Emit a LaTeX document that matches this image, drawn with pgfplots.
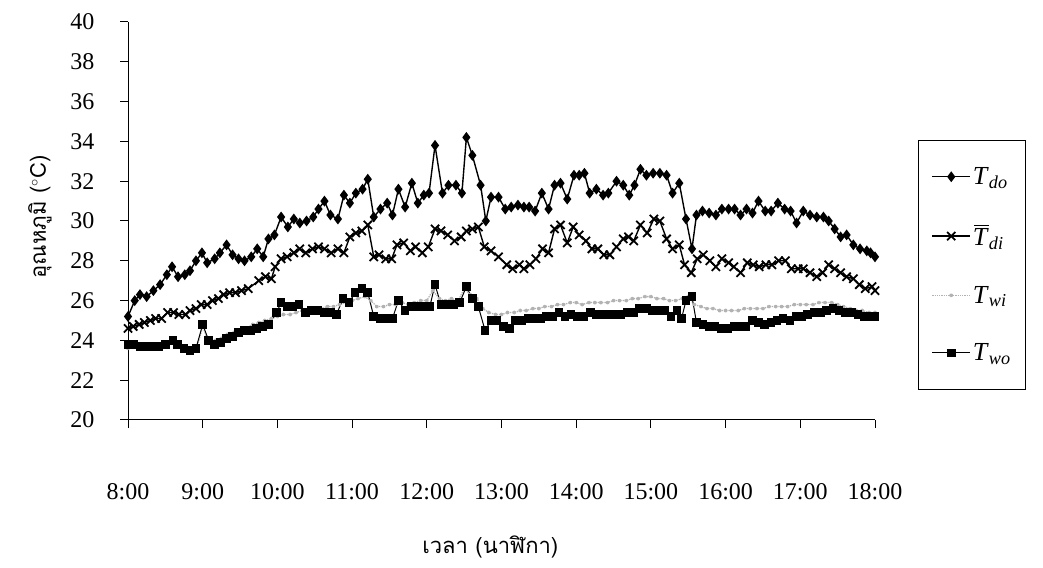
\documentclass[border=0pt]{standalone}
\usepackage{fontspec}
\setmainfont{Liberation Serif}
\newfontfamily\thaifont[Script=Thai]{Loma}
\usepackage{pgfplots}
\pgfplotsset{compat=1.18}
\usepackage{pgfplotstable}

% italic T with a bar over it
\newcommand{\barT}{{\setbox0\hbox{\textit{T}}\rlap{\hspace{1.5pt}\raisebox{\dimexpr\ht0+2.5pt\relax}{\rule{\dimexpr\wd0-1pt\relax}{1pt}}}\box0}}

% time in hours (8 = 8:00), temperature in degrees C
\pgfplotstableread{
t T
8.00 25.2
8.09 26.0
8.16 26.3
8.25 26.2
8.34 26.5
8.43 26.8
8.52 27.3
8.59 27.7
8.67 27.2
8.76 27.3
8.83 27.5
8.91 28.0
8.99 28.4
9.06 27.9
9.16 28.1
9.23 28.4
9.32 28.8
9.40 28.3
9.48 28.1
9.56 28.0
9.65 28.2
9.73 28.6
9.81 28.2
9.88 29.1
9.96 29.3
10.05 30.2
10.14 29.7
10.22 30.1
10.30 29.9
10.39 30.0
10.48 30.2
10.55 30.6
10.63 31.0
10.71 30.3
10.81 30.1
10.89 31.3
10.97 30.9
11.05 31.4
11.14 31.6
11.21 32.1
11.29 30.2
11.38 30.6
11.47 30.9
11.54 30.3
11.62 31.6
11.71 30.7
11.80 31.9
11.88 30.9
11.96 31.3
12.03 31.4
12.11 33.8
12.21 31.4
12.29 31.8
12.39 31.8
12.47 31.4
12.53 34.2
12.61 33.3
12.72 31.8
12.79 30.0
12.86 31.2
12.96 31.2
13.05 30.6
13.13 30.7
13.22 30.8
13.30 30.7
13.37 30.7
13.45 30.5
13.54 31.4
13.63 30.6
13.71 31.8
13.79 31.9
13.88 31.1
13.97 32.3
14.04 32.3
14.11 32.4
14.18 31.4
14.27 31.6
14.36 31.3
14.43 31.4
14.54 32.0
14.63 31.8
14.71 31.3
14.78 31.8
14.86 32.6
14.94 32.3
15.03 32.4
15.12 32.4
15.21 32.3
15.29 31.4
15.38 31.9
15.47 30.1
15.55 28.6
15.61 30.3
15.69 30.5
15.78 30.4
15.87 30.3
15.95 30.6
16.04 30.6
16.12 30.6
16.20 30.3
16.28 30.6
16.36 30.4
16.44 31.0
16.53 30.5
16.61 30.5
16.70 30.9
16.79 30.6
16.87 30.5
16.95 29.9
17.04 30.5
17.13 30.3
17.22 30.2
17.31 30.2
17.38 30.0
17.46 29.6
17.54 29.2
17.62 29.3
17.71 28.8
17.80 28.6
17.89 28.5
17.94 28.4
18.00 28.2
}\Tdo

\pgfplotstableread{
t T
8.00 24.6
8.07 24.7
8.15 24.8
8.22 24.9
8.30 25.0
8.37 25.1
8.45 25.1
8.53 25.4
8.61 25.4
8.68 25.3
8.77 25.3
8.83 25.5
8.91 25.6
8.98 25.8
9.06 25.8
9.13 26.0
9.21 26.1
9.28 26.3
9.36 26.4
9.44 26.4
9.52 26.5
9.61 26.6
9.75 27.0
9.84 27.2
9.92 27.1
9.97 27.7
10.05 28.1
10.13 28.2
10.22 28.4
10.30 28.6
10.38 28.4
10.47 28.6
10.55 28.7
10.63 28.6
10.72 28.4
10.81 28.6
10.89 28.4
10.97 29.2
11.05 29.4
11.13 29.5
11.21 29.8
11.29 28.2
11.36 28.3
11.45 28.1
11.53 28.1
11.60 28.8
11.69 28.9
11.78 28.5
11.85 28.7
11.94 28.4
12.02 28.7
12.11 29.6
12.19 29.5
12.28 29.3
12.37 29.0
12.46 29.2
12.53 29.5
12.61 29.6
12.69 29.7
12.77 28.7
12.86 28.5
12.96 28.2
13.07 27.8
13.15 27.6
13.24 27.8
13.30 27.6
13.38 27.8
13.46 28.1
13.55 28.6
13.63 28.4
13.71 29.6
13.79 29.8
13.88 28.9
13.96 29.7
14.04 29.3
14.13 29.0
14.21 28.6
14.29 28.6
14.37 28.3
14.45 28.3
14.54 28.7
14.63 29.1
14.70 29.2
14.77 29.0
14.86 29.8
14.95 29.4
15.04 30.1
15.12 30.0
15.21 29.1
15.29 28.6
15.38 28.8
15.45 27.8
15.54 27.4
15.62 28.1
15.70 28.3
15.79 28.0
15.87 27.7
15.95 28.1
16.04 27.9
16.11 27.7
16.20 27.4
16.29 27.9
16.37 27.8
16.45 27.7
16.54 27.8
16.62 27.8
16.71 28.0
16.80 28.0
16.88 27.6
16.97 27.6
17.04 27.6
17.13 27.4
17.22 27.2
17.30 27.4
17.38 27.8
17.46 27.6
17.54 27.4
17.62 27.2
17.71 27.1
17.79 26.8
17.87 26.6
17.96 26.7
18.00 26.5
}\Tdi

\pgfplotstableread{
t T
8.00 23.6
8.08 23.7
8.17 23.7
8.25 23.6
8.33 23.7
8.42 23.8
8.50 23.8
8.58 23.9
8.67 23.7
8.75 23.6
8.83 23.5
8.92 23.6
9.00 24.7
9.08 23.9
9.17 24.0
9.25 24.1
9.33 24.3
9.42 24.4
9.50 24.5
9.58 24.6
9.67 24.8
9.75 24.9
9.83 25.0
9.92 25.1
10.00 25.2
10.08 25.3
10.17 25.3
10.25 25.4
10.33 25.5
10.42 25.6
10.50 25.6
10.58 25.6
10.67 25.7
10.75 25.7
10.83 25.8
10.92 25.9
11.00 26.0
11.08 26.1
11.17 26.2
11.25 26.0
11.33 25.7
11.42 25.7
11.50 25.8
11.58 25.8
11.67 25.9
11.75 25.8
11.83 25.9
11.92 26.0
12.00 26.0
12.08 26.5
12.17 26.1
12.25 26.0
12.33 26.1
12.42 26.0
12.50 26.6
12.58 26.3
12.67 26.1
12.75 25.6
12.83 25.4
12.92 25.3
13.00 25.3
13.08 25.4
13.17 25.4
13.25 25.5
13.33 25.5
13.42 25.6
13.50 25.6
13.58 25.7
13.67 25.7
13.75 25.8
13.83 25.8
13.92 25.9
14.00 25.9
14.08 25.8
14.17 25.9
14.25 25.9
14.33 25.9
14.42 25.9
14.50 26.0
14.58 26.0
14.67 26.0
14.75 26.1
14.83 26.1
14.92 26.2
15.00 26.2
15.08 26.1
15.17 26.1
15.25 26.0
15.33 26.0
15.42 26.1
15.50 26.2
15.58 25.8
15.67 25.7
15.75 25.6
15.83 25.6
15.92 25.5
16.00 25.5
16.08 25.5
16.17 25.5
16.25 25.6
16.33 25.6
16.42 25.6
16.50 25.6
16.58 25.7
16.67 25.7
16.75 25.7
16.83 25.7
16.92 25.8
17.00 25.8
17.08 25.8
17.17 25.8
17.25 25.9
17.33 25.9
17.42 25.9
17.50 25.8
17.58 25.7
17.67 25.6
17.75 25.5
17.83 25.5
17.92 25.4
18.00 25.4
}\Twi

\pgfplotstableread{
t T
8.00 23.8
8.08 23.8
8.16 23.7
8.25 23.7
8.33 23.7
8.41 23.7
8.50 23.8
8.60 24.0
8.66 23.8
8.75 23.6
8.83 23.5
8.91 23.6
9.00 24.8
9.08 24.0
9.16 23.8
9.24 23.9
9.32 24.1
9.40 24.2
9.48 24.4
9.56 24.5
9.64 24.5
9.72 24.6
9.80 24.7
9.88 24.8
9.99 25.4
10.05 25.9
10.13 25.7
10.21 25.7
10.29 25.8
10.38 25.4
10.46 25.5
10.54 25.5
10.63 25.4
10.71 25.4
10.79 25.3
10.88 26.1
10.96 25.9
11.04 26.4
11.13 26.6
11.21 26.4
11.29 25.2
11.38 25.1
11.46 25.1
11.54 25.1
11.62 26.0
11.71 25.5
11.79 25.7
11.88 25.7
11.96 25.7
12.04 25.7
12.11 26.8
12.19 25.8
12.27 25.8
12.36 25.8
12.44 25.9
12.53 26.7
12.61 26.1
12.69 25.7
12.78 24.5
12.86 25.0
12.94 25.0
13.03 24.7
13.11 24.6
13.19 25.0
13.27 25.0
13.36 25.1
13.44 25.1
13.52 25.1
13.60 25.2
13.69 25.2
13.77 25.4
13.85 25.2
13.93 25.3
14.02 25.2
14.10 25.2
14.19 25.4
14.27 25.3
14.35 25.3
14.44 25.3
14.52 25.3
14.60 25.3
14.69 25.4
14.77 25.4
14.85 25.6
14.94 25.6
15.02 25.5
15.10 25.5
15.19 25.5
15.27 25.2
15.35 25.5
15.41 25.1
15.47 26.0
15.55 26.2
15.61 24.9
15.70 24.8
15.78 24.7
15.86 24.7
15.94 24.6
16.03 24.6
16.11 24.7
16.19 24.7
16.27 24.7
16.36 25.0
16.44 24.9
16.52 24.8
16.61 24.9
16.69 25.0
16.77 25.1
16.86 25.0
16.94 25.2
17.02 25.2
17.10 25.3
17.19 25.4
17.27 25.4
17.35 25.5
17.44 25.6
17.52 25.5
17.60 25.4
17.69 25.4
17.77 25.3
17.85 25.2
17.93 25.2
18.00 25.2
}\Two

\begin{document}
\begin{tikzpicture}
\useasboundingbox (0,0) rectangle (1043pt,567pt);
\begin{axis}[
  at={(128pt,147pt)}, anchor=south west,
  scale only axis, width=747pt, height=398pt,
  xmin=8, xmax=18, ymin=20, ymax=40,
  axis lines*=left,
  axis line style={black, line width=1pt},
  xtick={8,...,18},
  xticklabels={8:00,9:00,10:00,11:00,12:00,13:00,14:00,15:00,16:00,17:00,18:00},
  ytick={20,22,...,40},
  tick align=outside,
  major tick length=8pt,
  tick style={black, line width=1pt},
  /pgf/number format/assume math mode=true,
  tick label style={font=\fontsize{24}{28}\selectfont},
  xticklabel style={yshift=-52pt},
  yticklabel style={xshift=-22pt},
  xlabel={\thaifont เวลา (นาฬิกา)},
  xlabel style={at={(axis description cs:0.485,-0.319)}, anchor=center, font=\fontsize{22}{26}\selectfont},
  ylabel={\thaifont อุณหภูมิ ({}$^{\circ}$C)},
  ylabel style={at={(axis description cs:-0.118,0.51)}, anchor=center, font=\fontsize{22}{26}\selectfont},
  legend style={at={(axis description cs:1.0576,0.7035)}, anchor=north west,
    draw=black, line width=1pt, font=\fontsize{26}{29}\selectfont,
    row sep=35pt, inner xsep=13pt, inner ysep=25pt},
  legend cell align=left,
  legend image code/.code={\draw[mark repeat=2,mark phase=2]
    plot coordinates {(0pt,0pt) (19pt,0pt) (38pt,0pt)};},
]
\addplot[black, line width=1.4pt, mark=diamond*, mark size=4.3pt] table[x=t,y=T]{\Tdo};
\addlegendentry{\textit{T}\textsubscript{\textit{do}}}
\addplot[black, line width=1.4pt, mark=x, mark size=5.8pt, mark options={line width=1.8pt}] table[x=t,y=T]{\Tdi};
\addlegendentry{\barT\textsubscript{\textit{di}}}
\addplot[gray!60, densely dotted, line width=1.3pt, mark=asterisk, mark size=1.8pt, mark options={solid}] table[x=t,y=T]{\Twi};
\addlegendentry{\textit{T}\textsubscript{\textit{wi}}}
\addplot[black, line width=1pt, mark=square*, mark size=3.8pt] table[x=t,y=T]{\Two};
\addlegendentry{\textit{T}\textsubscript{\textit{wo}}}
\end{axis}
\end{tikzpicture}
\end{document}
